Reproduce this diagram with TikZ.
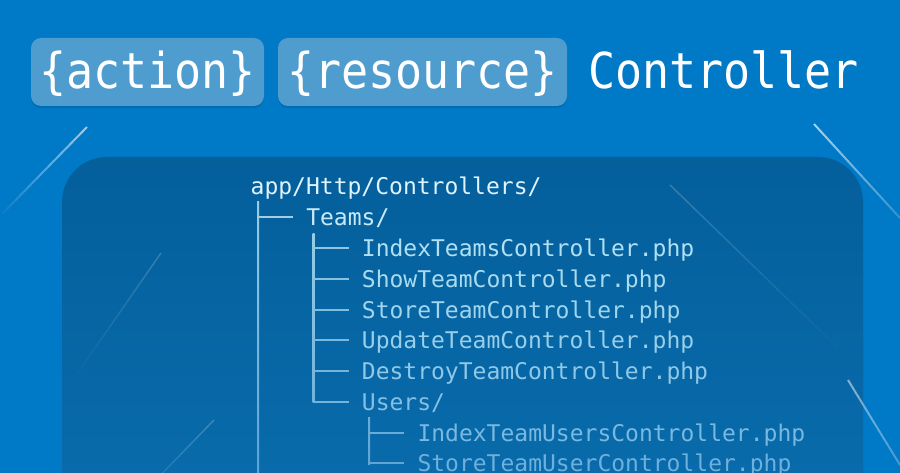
\documentclass[tikz,border=0pt]{standalone}
\usepackage{fontspec}
\setmonofont{DejaVu Sans Mono}
\usetikzlibrary{calc}
\definecolor{bg}{RGB}{0,121,198}
\definecolor{panelTop}{RGB}{4,95,155}
\definecolor{panelBot}{RGB}{10,109,174}
\definecolor{pillc}{RGB}{79,156,206}
\definecolor{c0}{RGB}{222,243,252}
\definecolor{c1}{RGB}{200,234,248}
\definecolor{c2}{RGB}{176,224,244}
\definecolor{c3}{RGB}{168,219,241}
\definecolor{c4}{RGB}{160,213,238}
\definecolor{c5}{RGB}{152,207,235}
\definecolor{c6}{RGB}{143,201,232}
\definecolor{c7}{RGB}{132,192,228}
\definecolor{c8}{RGB}{121,184,224}
\definecolor{c9}{RGB}{110,176,220}
\newcommand\fadeline[5]{%
  \foreach \k in {0,...,19}{%
    \pgfmathsetmacro\ta{\k/20}%
    \pgfmathsetmacro\tb{(\k+1)/20}%
    \pgfmathsetmacro\op{#3+(#4-#3)*\k/19}%
    \draw[white, line width=#5, opacity=\op] ($(#1)!\ta!(#2)$) -- ($(#1)!\tb!(#2)$);
  }}
\tikzset{
  pill/.style={fill=pillc, rounded corners=10pt, minimum height=68pt, inner sep=0pt,
    text=white, font=\fontsize{45}{54}\selectfont\ttfamily, text height=44pt, text depth=10pt},
  pillshadow/.style={fill=black, opacity=0.10, rounded corners=10pt},
  titletext/.style={text=white, font=\fontsize{45}{54}\selectfont\ttfamily, inner sep=0pt, anchor=base},
  tree/.style={font=\fontsize{23}{28}\selectfont\ttfamily, anchor=base west, inner sep=0pt},
  branch/.style={line width=2pt, line cap=rect},
}
\begin{document}
\begin{tikzpicture}[x=1pt,y=-1pt]
\useasboundingbox (0,0) rectangle (900,473);
\fill[bg] (0,0) rectangle (900,473);
\coordinate (bot) at (0,473);
% panel
\shade[top color=panelTop, bottom color=panelBot, rounded corners=45pt] (62,157) rectangle (863,530);
% decorative lines
\coordinate (d1a) at (87,127); \coordinate (d1b) at (3,213);
\coordinate (d2a) at (814,124); \coordinate (d2b) at (900,218);
\coordinate (d3a) at (161,253); \coordinate (d3b) at (68,387);
\coordinate (d4a) at (214,420); \coordinate (d4b) at (150,486);
\coordinate (d5a) at (670,185); \coordinate (d5b) at (837,347);
\coordinate (d6a) at (848,380); \coordinate (d6b) at (900,465);
\fadeline{d1a}{d1b}{0.6}{0.05}{2pt}
\fadeline{d2a}{d2b}{0.65}{0.2}{2pt}
\fadeline{d3a}{d3b}{0.18}{0.0}{1.5pt}
\fadeline{d4a}{d4b}{0.2}{0.08}{1.5pt}
\fadeline{d5a}{d5b}{0.18}{0.02}{1.5pt}
\fadeline{d6a}{d6b}{0.5}{0.25}{2pt}
% title pills
\fill[pillshadow] (31,40) rectangle (264,108);
\fill[pillshadow] (278,40) rectangle (567,108);
\node[pill, minimum width=233pt] (action) at (147.5,72) {\scalebox{1}[1.1]{\{action\}}};
\node[pill, minimum width=289pt] (resource) at (422.5,72) {\scalebox{1}[1.1]{\{resource\}}};
\node[titletext] (controller) at (723.5,89) {\scalebox{1}[1.1]{Controller}};
% tree texts
\node[tree, text=c0] (app) at (250.5,195) {app/Http/Controllers/};
\node[tree, text=c1] (teams) at (306.1,225.75) {Teams/};
\node[tree, text=c2] (idx) at (361.7,256.5) {IndexTeamsController.php};
\node[tree, text=c3] (show) at (361.7,287.25) {ShowTeamController.php};
\node[tree, text=c4] (store) at (361.7,318) {StoreTeamController.php};
\node[tree, text=c5] (update) at (361.7,348.75) {UpdateTeamController.php};
\node[tree, text=c6] (destroy) at (361.7,379.5) {DestroyTeamController.php};
\node[tree, text=c7] (users) at (361.7,410.25) {Users/};
\node[tree, text=c8] (iu) at (417.3,441) {IndexTeamUsersController.php};
\node[tree, text=c9] (su) at (417.3,471.75) {StoreTeamUserController.php};
% tree connector anchors
\coordinate (v1) at ($(app.base west)+(7.5,7)$);
\coordinate (v2) at ($(teams.base west)+(7.5,7.5)$);
\coordinate (v3) at ($(users.base west)+(7.5,7.5)$);
\foreach \c in {teams,idx,show,store,update,destroy,users,iu,su}{
  \coordinate (h-\c) at ($(\c.base west)+(-14,-8.3)$);
}
% vertical trunks
\shade[top color=c2!85!panelTop, bottom color=c9!80!panelBot] ($(v1)+(-1,0)$) rectangle ($(v1 |- bot)+(1,0)$);
\shade[top color=c2!85!panelTop, bottom color=c7!85!panelBot] ($(v2)+(-1,0)$) rectangle ($(v2 |- h-users)+(1,1)$);
\shade[top color=c8!85!panelBot, bottom color=c9!85!panelBot] ($(v3)+(-1,0)$) rectangle ($(v3 |- h-su)+(1,1)$);
% branches
\draw[branch, c1!80!panelTop] (v1 |- h-teams) -- (h-teams);
\draw[branch, c2!80!panelTop] (v2 |- h-idx) -- (h-idx);
\draw[branch, c3!80!panelTop] (v2 |- h-show) -- (h-show);
\draw[branch, c4!80!panelTop] (v2 |- h-store) -- (h-store);
\draw[branch, c5!80!panelTop] (v2 |- h-update) -- (h-update);
\draw[branch, c6!80!panelTop] (v2 |- h-destroy) -- (h-destroy);
\draw[branch, c7!85!panelBot] (v2 |- h-users) -- (h-users);
\draw[branch, c8!85!panelBot] (v3 |- h-iu) -- (h-iu);
\draw[branch, c9!85!panelBot] (v3 |- h-su) -- (h-su);
\end{tikzpicture}
\end{document}
